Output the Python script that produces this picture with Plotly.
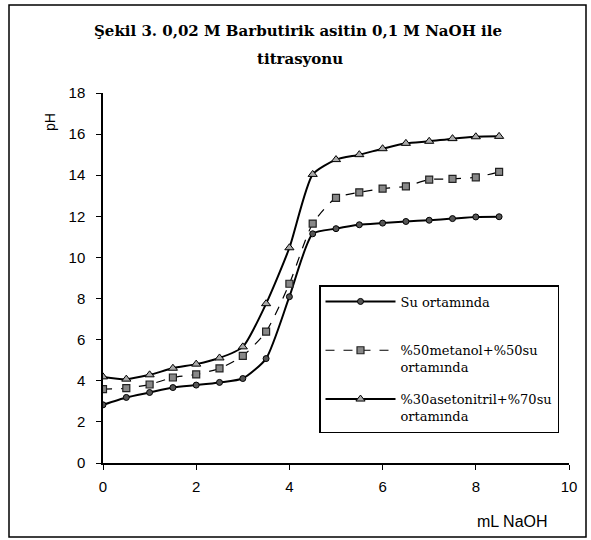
import plotly.graph_objects as go

ml_naoh = [0, 0.5, 1, 1.5, 2, 2.5, 3, 3.5, 4, 4.5, 5, 5.5, 6, 6.5, 7, 7.5, 8, 8.5]
ph_su = [2.83, 3.19, 3.43, 3.67, 3.79, 3.92, 4.11, 5.08, 8.09, 11.15, 11.4, 11.59, 11.67, 11.75, 11.81, 11.89, 11.97, 11.98]
ph_metanol = [3.59, 3.64, 3.82, 4.16, 4.31, 4.6, 5.21, 6.39, 8.72, 11.65, 12.9, 13.17, 13.35, 13.46, 13.79, 13.82, 13.9, 14.16]
ph_asetonitril = [4.19, 4.08, 4.29, 4.61, 4.81, 5.11, 5.65, 7.75, 10.47, 14.04, 14.76, 15.0, 15.29, 15.55, 15.65, 15.78, 15.87, 15.89]

names = ["Su ortamında<br>&nbsp;", "%50metanol+%50su<br>ortamında", "%30asetonitril+%70su<br>ortamında"]
title_lines = ["Şekil 3. 0,02 M Barbutirik asitin 0,1 M NaOH ile", "titrasyonu"]

# plot area in pixels: x 103..569, y 93..463
L, R, T, B = 103, 569, 93, 463
W, H = R - L, B - T
def px(x): return (x - L) / W
def py(y): return (B - y) / H

fig = go.Figure()
fig.add_trace(go.Scatter(x=ml_naoh, y=ph_su, name=names[0], mode="lines+markers", legendgroup="a",
                         line=dict(color="black", width=2, shape="spline", smoothing=0.6),
                         marker=dict(symbol="circle", size=6, color="#555", line=dict(color="black", width=1))))
fig.add_trace(go.Scatter(x=ml_naoh, y=ph_metanol, name=names[1], mode="lines+markers", legendgroup="b",
                         line=dict(color="black", width=1.2, dash="dash", shape="spline", smoothing=0.6),
                         marker=dict(symbol="square", size=7, color="#888", line=dict(color="#222", width=1.2))))
fig.add_trace(go.Scatter(x=ml_naoh, y=ph_asetonitril, name=names[2], mode="lines+markers", legendgroup="c",
                         line=dict(color="black", width=2, shape="spline", smoothing=0.6),
                         marker=dict(symbol="triangle-up", size=8, color="#aaa", line=dict(color="black", width=1))))

axis_common = dict(showline=True, linecolor="black", linewidth=1.5, ticks="outside", ticklen=5,
                   tickcolor="black", showgrid=False, zeroline=False,
                   tickfont=dict(family="Liberation Sans", size=15, color="black"))
fig.update_xaxes(range=[0, 10], dtick=2, ticklabelstandoff=4, **axis_common)
fig.update_yaxes(range=[0, 18], dtick=2, ticklabelstandoff=8, **axis_common)

fig.update_layout(
    width=591, height=540,
    margin=dict(l=L, r=591 - R, t=T, b=540 - B),
    paper_bgcolor="white", plot_bgcolor="white",
    showlegend=True,
    legend=dict(x=px(319), y=py(285), xanchor="left", yanchor="top",
                bordercolor="black", borderwidth=1.5, bgcolor="white",
                font=dict(family="DejaVu Serif", size=13, color="black"),
                itemwidth=70, tracegroupgap=12, valign="top"),
    annotations=[
        dict(text="<b>" + title_lines[0] + "</b>", xref="paper", yref="paper", x=px(298), y=py(31),
             xanchor="center", yanchor="middle", showarrow=False,
             font=dict(family="DejaVu Serif", size=15, color="black")),
        dict(text="<b>" + title_lines[1] + "</b>", xref="paper", yref="paper", x=px(300), y=py(59),
             xanchor="center", yanchor="middle", showarrow=False,
             font=dict(family="DejaVu Serif", size=15, color="black")),
        dict(text="pH", xref="paper", yref="paper", x=px(50), y=py(122), showarrow=False,
             xanchor="center", yanchor="middle",
             textangle=-90, font=dict(family="Liberation Sans", size=14, color="black")),
        dict(text="mL NaOH", xref="paper", yref="paper", x=px(512), y=py(521), showarrow=False,
             xanchor="center", yanchor="middle",
             font=dict(family="Liberation Sans", size=16, color="black")),
    ],
    shapes=[dict(type="rect", xref="paper", yref="paper", x0=px(9), x1=px(586), y0=py(537), y1=py(5),
                 line=dict(color="black", width=1.5))],
)

fig.write_html("out.html")
